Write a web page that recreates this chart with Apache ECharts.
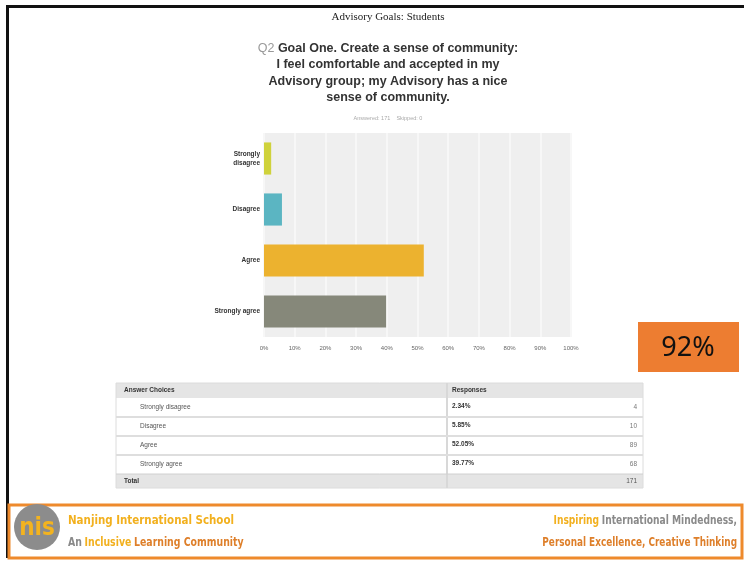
<!DOCTYPE html>
<html>
<head>
<meta charset="utf-8">
<script src="https://cdn.jsdelivr.net/npm/echarts@6/dist/echarts.min.js"></script>
<style>html,body{margin:0;padding:0;background:#fff}#c{width:744px;height:561px}</style>
</head>
<body>
<div id="c"></div>
<script>
const categories = ['Strongly disagree', 'Disagree', 'Agree', 'Strongly agree'];
const percents = [2.34, 5.85, 52.05, 39.77];
const counts = [4, 10, 89, 68];
const total = 171;
const answered = 171;
const skipped = 0;
const barColors = ['#cfd23c', '#5bb5c2', '#ecb22f', '#86887a'];
const headline = '92%';

const chart = echarts.init(document.getElementById('c'));

const tableLeft = 116, tableRight = 643, divX = 447;
const headTop = 383, headH = 15, rowH = 19;
const g = [];
// frame
g.push({type:'rect', shape:{x:6,y:5,width:744,height:3}, style:{fill:'#111'}});
g.push({type:'rect', shape:{x:6,y:5,width:3,height:553}, style:{fill:'#111'}});
// table
const rowsTop = headTop + headH;
const totalTop = rowsTop + rowH * categories.length;
g.push({type:'rect', shape:{x:tableLeft,y:headTop,width:tableRight-tableLeft,height:headH}, style:{fill:'#e5e5e5'}});
g.push({type:'rect', shape:{x:tableLeft,y:totalTop,width:tableRight-tableLeft,height:14}, style:{fill:'#e5e5e5'}});
g.push({type:'rect', shape:{x:tableLeft,y:headTop,width:tableRight-tableLeft,height:totalTop+14-headTop}, style:{fill:'none',stroke:'#dcdcdc',lineWidth:1}});
g.push({type:'line', shape:{x1:divX,y1:headTop,x2:divX,y2:totalTop+14}, style:{stroke:'#d8d8d8',lineWidth:2}});
const fs = 6.5;
g.push({type:'text', style:{x:124,y:headTop+headH/2,text:'Answer Choices',fill:'#333',font:'bold '+fs+'px Liberation Sans',verticalAlign:'middle'}});
g.push({type:'text', style:{x:452,y:headTop+headH/2,text:'Responses',fill:'#333',font:'bold '+fs+'px Liberation Sans',verticalAlign:'middle'}});
categories.forEach((c,i)=>{
  const y = rowsTop + rowH*i;
  if (i>0) g.push({type:'line', shape:{x1:tableLeft,y1:y,x2:tableRight,y2:y}, style:{stroke:'#dedede',lineWidth:2}});
  g.push({type:'text', style:{x:140,y:y+rowH/2,text:c,fill:'#555',font:fs+'px Liberation Sans',verticalAlign:'middle'}});
  g.push({type:'text', style:{x:452,y:y+rowH/2-1,text:percents[i].toFixed(2)+'%',fill:'#333',font:'bold '+fs+'px Liberation Sans',verticalAlign:'middle'}});
  g.push({type:'text', style:{x:637,y:y+rowH/2,text:String(counts[i]),fill:'#777',font:fs+'px Liberation Sans',verticalAlign:'middle',align:'right'}});
});
g.push({type:'line', shape:{x1:tableLeft,y1:totalTop,x2:tableRight,y2:totalTop}, style:{stroke:'#d0d0d0',lineWidth:1}});
g.push({type:'text', style:{x:124,y:totalTop+7,text:'Total',fill:'#333',font:'bold '+fs+'px Liberation Sans',verticalAlign:'middle'}});
g.push({type:'text', style:{x:637,y:totalTop+7,text:String(total),fill:'#555',font:fs+'px Liberation Sans',verticalAlign:'middle',align:'right'}});
// orange box
g.push({type:'rect', shape:{x:638,y:322,width:101,height:50}, style:{fill:'#ED7D31'}});
g.push({type:'text', style:{x:688,y:348,text:headline,fill:'#111',font:'27px Noto Sans',align:'center',verticalAlign:'middle'}});
// footer
g.push({type:'rect', shape:{x:9,y:505,width:733,height:53}, style:{fill:'#fff',stroke:'#EE8A2C',lineWidth:3}});
g.push({type:'circle', shape:{cx:37,cy:527,r:23}, style:{fill:'#8c8c8c'}});
g.push({type:'text', style:{x:37,y:529,text:'nis',fill:'#F3B31F',font:'bold 24px DejaVu Sans Condensed',align:'center',verticalAlign:'middle'}});
const rich = {
  y:{fill:'#F2B01E',font:'bold 13px DejaVu Sans Condensed'},
  g:{fill:'#8a8a8a',font:'bold 13px DejaVu Sans Condensed'},
  o:{fill:'#DE7F2A',font:'bold 13px DejaVu Sans Condensed'}
};
g.push({type:'text', x:68, y:521, scaleX:0.88, style:{x:0,y:0,text:'{y|Nanjing International School}',rich:rich,verticalAlign:'middle'}});
g.push({type:'text', x:68, y:543, scaleX:0.8, style:{x:0,y:0,text:'{g|An} {y|Inclusive} {o|Learning Community}',rich:rich,verticalAlign:'middle'}});
g.push({type:'text', x:737, y:521, scaleX:0.78, style:{x:0,y:0,text:'{y|Inspiring} {g|International Mindedness,}',rich:rich,align:'right',verticalAlign:'middle'}});
g.push({type:'text', x:737, y:543, scaleX:0.76, style:{x:0,y:0,text:'{o|Personal Excellence, Creative Thinking}',rich:rich,align:'right',verticalAlign:'middle'}});

chart.setOption({
  animation:false,
  backgroundColor:'#fff',
  title:[
    {text:'Advisory Goals: Students', left:383, top:7, textAlign:'center',
     textStyle:{fontFamily:'Liberation Serif', fontSize:11, fontWeight:'normal', color:'#222'}},
    {text:'{q|Q2} Goal One. Create a sense of community:\nI feel comfortable and accepted in my\nAdvisory group; my Advisory has a nice\nsense of community.',
     left:383, top:35, textAlign:'center',
     textStyle:{fontFamily:'Liberation Sans', fontSize:12.5, fontWeight:'bold', color:'#333', lineHeight:16.5,
       rich:{q:{fontFamily:'Liberation Sans', fontSize:12.5, fontWeight:'normal', color:'#999', lineHeight:16.5}}}},
    {text:'Answered: '+answered+'    Skipped: '+skipped, left:383, top:110, textAlign:'center',
     textStyle:{fontFamily:'Liberation Sans', fontSize:5.5, fontWeight:'normal', color:'#aaa'}}
  ],
  grid:{left:264, top:133, width:307, height:204, show:true, backgroundColor:'#efefef', borderWidth:0},
  xAxis:{type:'value', min:0, max:100, interval:10,
    axisLine:{show:false}, axisTick:{show:false},
    axisLabel:{formatter:'{value}%', fontSize:6, color:'#666', margin:8, fontFamily:'Liberation Sans'},
    splitLine:{show:true, lineStyle:{color:'#f7f7f7', width:2}}},
  yAxis:{type:'category', data:categories, inverse:true,
    axisLine:{show:false}, axisTick:{show:false},
    axisLabel:{fontSize:6.5, fontWeight:'bold', color:'#333', margin:4, fontFamily:'Liberation Sans', lineHeight:8.5,
      formatter:v=> v==='Strongly disagree' ? 'Strongly\ndisagree' : v}},
  series:[{type:'bar', barCategoryGap:'37%',
    data:percents.map((v,i)=>({value:v,itemStyle:{color:barColors[i]}})),
    label:{show:false}}],
  graphic:g
});
</script>
</body>
</html>
